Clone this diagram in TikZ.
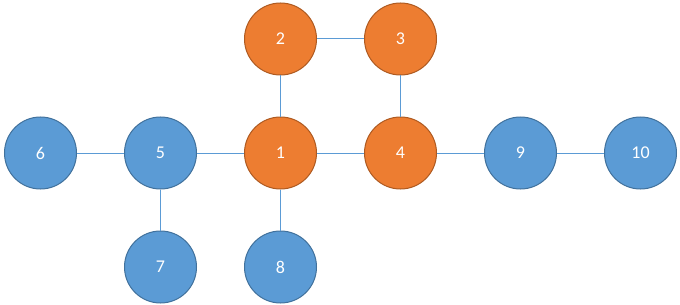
\documentclass[tikz,border=0pt]{standalone}
\usepackage{fontspec}
\setmainfont{Carlito}
\definecolor{oran}{HTML}{ED7D31}
\definecolor{oranline}{HTML}{AE5A21}
\definecolor{blu}{HTML}{5B9BD5}
\definecolor{bluline}{HTML}{41719C}
\begin{document}
\begin{tikzpicture}[x=1pt,y=-1pt,
  vtx/.style={circle,minimum size=72pt,inner sep=0pt,line width=1pt,text=white,font=\fontsize{18}{20}\selectfont},
  ovtx/.style={vtx,fill=oran,draw=oranline},
  bvtx/.style={vtx,fill=blu,draw=bluline},
  link/.style={draw=blu,line width=1pt}]
\useasboundingbox (0,0) rectangle (680,305);
\node[ovtx] (n2) at (280.5,39) {2};
\node[ovtx] (n3) at (400.5,39) {3};
\node[bvtx] (n6) at (40.5,153) {6};
\node[bvtx] (n5) at (160.5,153) {5};
\node[ovtx] (n1) at (280.5,153) {1};
\node[ovtx] (n4) at (400.5,153) {4};
\node[bvtx] (n9) at (520.5,153) {9};
\node[bvtx] (n10) at (640.5,153) {10};
\node[bvtx] (n7) at (160.5,267) {7};
\node[bvtx] (n8) at (280.5,267) {8};
\path[link] (n2) -- (n3);
\path[link] (n2) -- (n1);
\path[link] (n3) -- (n4);
\path[link] (n6) -- (n5);
\path[link] (n5) -- (n1);
\path[link] (n1) -- (n4);
\path[link] (n4) -- (n9);
\path[link] (n9) -- (n10);
\path[link] (n5) -- (n7);
\path[link] (n1) -- (n8);
\end{tikzpicture}
\end{document}
